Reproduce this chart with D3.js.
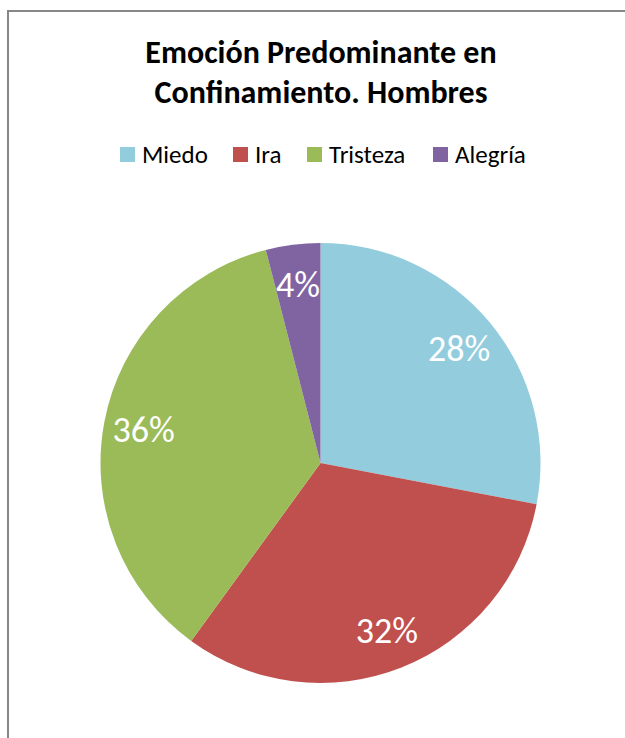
<!DOCTYPE html>
<html>
<head>
<meta charset="utf-8">
<script src="https://cdn.jsdelivr.net/npm/d3@7"></script>
<style>
  body { margin: 0; background: #fff; }
  svg { display: block; font-family: Calibri, Carlito, Lato, sans-serif; }
</style>
</head>
<body>
<div id="chart"></div>
<script>
// data
const categories = ['Miedo', 'Ira', 'Tristeza', 'Alegría'];
const values = [28, 32, 36, 4];
const colors = ['#93CDDD', '#C0504D', '#9BBB59', '#8064A2'];
const titleLines = ['Emoción Predominante en', 'Confinamiento. Hombres'];

const width = 625, height = 738;
const cx = 320.5, cy = 463, radius = 220;

const svg = d3.select('#chart').append('svg')
    .attr('width', width)
    .attr('height', height);

// chart area border (runs off the right and bottom of the picture)
svg.append('rect')
    .attr('x', 8)
    .attr('y', 11)
    .attr('width', 640)
    .attr('height', 760)
    .attr('fill', 'none')
    .attr('stroke', '#878787')
    .attr('stroke-width', 2);

// title
svg.append('text')
    .attr('text-anchor', 'middle')
    .attr('font-weight', 'bold')
    .attr('font-size', 32)
    .selectAll('tspan')
    .data(titleLines)
    .join('tspan')
    .attr('x', 321)
    .attr('y', (d, i) => 63 + i * 40)
    .text(d => d);

// legend
const legendX = [120, 233, 307, 433];
const legend = svg.append('g')
    .selectAll('g')
    .data(categories)
    .join('g')
    .attr('transform', (d, i) => `translate(${legendX[i]},147)`);

legend.append('rect')
    .attr('width', 15)
    .attr('height', 15)
    .attr('fill', (d, i) => colors[i]);

legend.append('text')
    .attr('x', 22)
    .attr('y', 16)
    .attr('font-size', 25)
    .attr('fill', '#000')
    .text(d => d);

// pie
const pie = d3.pie().sort(null).value(d => d);
const arcs = pie(values);

const arc = d3.arc().innerRadius(0).outerRadius(radius);
const labelArc = d3.arc().innerRadius(180).outerRadius(180);

const g = svg.append('g')
    .attr('transform', `translate(${cx},${cy})`);

g.selectAll('path')
    .data(arcs)
    .join('path')
    .attr('d', arc)
    .attr('fill', (d, i) => colors[i]);

g.selectAll('text')
    .data(arcs)
    .join('text')
    .attr('transform', d => `translate(${labelArc.centroid(d)})`)
    .attr('text-anchor', 'middle')
    .attr('dy', '0.35em')
    .attr('font-size', 36)
    .attr('fill', '#fff')
    .text(d => d.data + '%');
</script>
</body>
</html>
